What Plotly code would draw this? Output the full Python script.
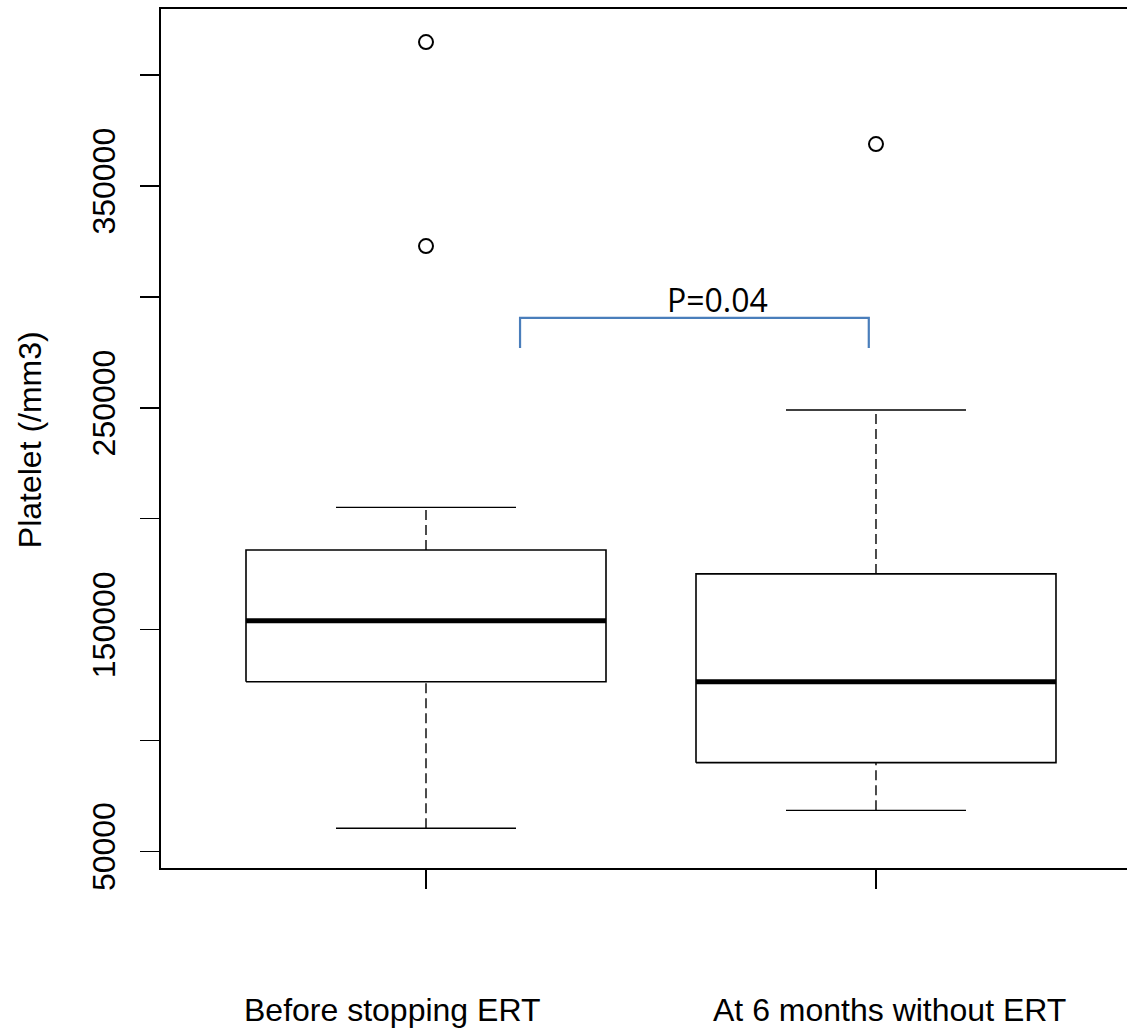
import plotly.graph_objects as go

# ---- data ----
categories = ["Before stopping ERT", "At 6 months without ERT"]
whisker_low = [60400, 68500]
q1 = [126500, 90000]
median = [154000, 126500]
q3 = [185900, 175100]
whisker_high = [205100, 249000]
outliers = [[322900, 414900], [368900]]

y_tickvals = [50000, 100000, 150000, 200000, 250000, 300000, 350000, 400000]
y_ticktext = ["50000", "", "150000", "", "250000", "", "350000", ""]
y_title = "Platelet (/mm3)"
p_label = "P=0.04"

# ---- styling / layout constants ----
W, H = 1127, 1034
M_L, M_R, M_T, M_B = 161, 0, 9, 166
X_RANGE = [0.4111, 2.5578]
Y_RANGE = [42500, 429800]
BOX_HALF = 0.4
CAP_HALF = 0.2
FONT = "Liberation Sans, Arial, sans-serif"
BRACKET_X = (1.209, 1.984)
BRACKET_TOP = 290500
BRACKET_BOTTOM = 277000
BRACKET_COLOR = "#4a7ebb"
P_POS = (1.6467, 298600)
LABEL_XSHIFT = [-34.5, 14]

fig = go.Figure()

for i, cat in enumerate(categories):
    x = i + 1
    # box outline
    fig.add_trace(go.Scatter(
        x=[x - BOX_HALF, x + BOX_HALF, x + BOX_HALF, x - BOX_HALF, x - BOX_HALF],
        y=[q1[i], q1[i], q3[i], q3[i], q1[i]],
        mode="lines", line=dict(color="black", width=1.6),
        hoverinfo="skip", showlegend=False))
    # median
    fig.add_trace(go.Scatter(
        x=[x - BOX_HALF, x + BOX_HALF], y=[median[i], median[i]],
        mode="lines", line=dict(color="black", width=5),
        hoverinfo="skip", showlegend=False))
    # whiskers (dashed)
    fig.add_trace(go.Scatter(
        x=[x, x], y=[q3[i], whisker_high[i]],
        mode="lines", line=dict(color="black", width=1.4, dash="10px,5px"),
        hoverinfo="skip", showlegend=False))
    fig.add_trace(go.Scatter(
        x=[x, x], y=[whisker_low[i], q1[i]],
        mode="lines", line=dict(color="black", width=1.4, dash="10px,5px"),
        hoverinfo="skip", showlegend=False))
    # caps
    for v in (whisker_low[i], whisker_high[i]):
        fig.add_trace(go.Scatter(
            x=[x - CAP_HALF, x + CAP_HALF], y=[v, v],
            mode="lines", line=dict(color="black", width=1.4),
            hoverinfo="skip", showlegend=False))
    # outliers
    fig.add_trace(go.Scatter(
        x=[x] * len(outliers[i]), y=outliers[i],
        mode="markers",
        marker=dict(symbol="circle-open", size=14, color="black", line=dict(width=2)),
        hoverinfo="skip", showlegend=False))
    # category label
    fig.add_annotation(
        x=x, y=-0.1653, xref="x", yref="paper", text=cat, showarrow=False,
        xanchor="center", yanchor="middle", xshift=LABEL_XSHIFT[i],
        font=dict(family=FONT, size=32, color="black"))

# significance bracket
fig.add_trace(go.Scatter(
    x=[BRACKET_X[0], BRACKET_X[0], BRACKET_X[1], BRACKET_X[1]],
    y=[BRACKET_BOTTOM, BRACKET_TOP, BRACKET_TOP, BRACKET_BOTTOM],
    mode="lines", line=dict(color=BRACKET_COLOR, width=2.2),
    hoverinfo="skip", showlegend=False))
fig.add_annotation(
    x=P_POS[0], y=P_POS[1], xref="x", yref="y", text=p_label, showarrow=False,
    xanchor="center", yanchor="middle",
    font=dict(family="Open Sans, sans-serif", size=32, color="black"))

# y axis title
fig.add_annotation(
    x=(30 - M_L) / (W - M_L - M_R), y=0.498, xref="paper", yref="paper",
    text=y_title, textangle=-90, showarrow=False,
    xanchor="center", yanchor="middle",
    font=dict(family=FONT, size=32, color="black"))

fig.update_layout(
    width=W, height=H,
    margin=dict(l=M_L, r=M_R, t=M_T, b=M_B, autoexpand=False),
    paper_bgcolor="white", plot_bgcolor="white",
    showlegend=False,
    xaxis=dict(range=X_RANGE, showgrid=False, zeroline=False,
               showline=True, mirror=True, linecolor="black", linewidth=2,
               tickvals=[1, 2], ticktext=["", ""], ticks="outside",
               ticklen=19, tickwidth=1.6, tickcolor="black"),
    yaxis=dict(range=Y_RANGE, showgrid=False, zeroline=False,
               showline=True, mirror=False, linecolor="black", linewidth=2,
               tickvals=y_tickvals, ticktext=y_ticktext, tickangle=-90,
               ticks="outside", ticklen=19, tickwidth=1.6, tickcolor="black",
               ticklabelstandoff=12,
               tickfont=dict(family=FONT, size=32, color="black")),
)

# remove the default page margin and scrollbars so the figure fills the window
page_css = (
    "document.body.style.margin='0';"
    "document.body.style.overflow='hidden';"
    "document.documentElement.style.overflow='hidden';"
)
fig.write_html("out.html", post_script=page_css,
               config={"displayModeBar": False, "staticPlot": True})
